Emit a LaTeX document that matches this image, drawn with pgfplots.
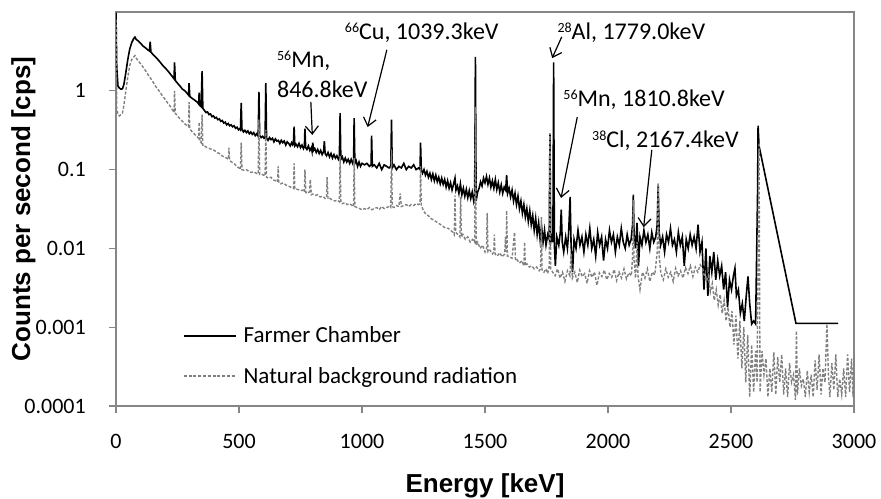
\documentclass[border=0pt]{standalone}
\usepackage{fontspec}
\setmainfont{Carlito}
\newfontfamily\arialfont{Liberation Sans}
\usepackage{pgfplots}
\usepackage{pgfplotstable}
\pgfplotsset{compat=1.18}
\usetikzlibrary{arrows.meta}
\definecolor{axisgrey}{RGB}{134,134,134}
\definecolor{bggrey}{RGB}{128,128,128}
\newcommand\sups[1]{\raisebox{7bp}{\fontsize{14bp}{14bp}\selectfont #1}}

\pgfplotstableread{
E c
0 9.8
3 2.0
8 1.15
14 1.08
20 1.05
26 1.06
32 1.2
40 1.7
48 2.5
56 3.4
64 4.1
72 4.6
77 4.8
82 4.5
90 4.3
100 4.0
110 3.7
120 3.5
130 3.3
136 3.2
139 4.2
142 3.1
150 2.9
160 2.7
170 2.5
180 2.3
190 2.1
200 1.95
210 1.8
220 1.65
230 1.5
236 1.42
238 2.3
241 1.35
250 1.25
260 1.15
270 1.05
280 1.0
290 0.92
295 0.88
297 1.25
300 0.85
310 0.8
320 0.76
330 0.72
336 0.68
338 0.95
340 0.66
346 0.63
350 1.78
353 0.6
360 0.56
366 0.53
372 0.54
378 0.5
384 0.51
390 0.47
396 0.48
402 0.45
408 0.46
414 0.43
420 0.44
426 0.41
432 0.42
438 0.39
444 0.4
450 0.37
456 0.385
462 0.36
468 0.37
474 0.35
480 0.36
486 0.335
492 0.345
498 0.32
503 0.33
506 0.32
509 0.7
512 0.33
518 0.3
524 0.315
530 0.295
536 0.31
542 0.285
548 0.3
554 0.28
560 0.295
566 0.27
572 0.285
578 0.265
581 0.97
584 0.27
590 0.255
596 0.265
602 0.25
606 0.255
609 1.25
612 0.25
618 0.235
624 0.255
630 0.24
636 0.25
642 0.225
648 0.245
654 0.23
660 0.235
666 0.215
672 0.235
678 0.22
684 0.23
690 0.205
696 0.225
702 0.215
708 0.2
714 0.22
718 0.205
721 0.21
724 0.35
727 0.2
732 0.21
738 0.195
744 0.215
750 0.19
756 0.205
762 0.185
766 0.2
768 0.33
771 0.19
776 0.18
782 0.2
788 0.175
794 0.19
797 0.17
800 0.22
803 0.175
808 0.185
814 0.165
820 0.18
826 0.16
832 0.175
838 0.155
844 0.17
847 0.23
850 0.16
856 0.15
862 0.165
868 0.145
874 0.16
880 0.14
886 0.155
892 0.14
898 0.15
904 0.135
908 0.145
911 0.52
914 0.135
920 0.145
926 0.125
932 0.14
938 0.125
944 0.135
950 0.12
956 0.135
962 0.12
966 0.13
968 0.45
971 0.12
976 0.13
982 0.11
988 0.125
994 0.11
1000 0.12
1010 0.115
1020 0.12
1030 0.11
1037 0.115
1039 0.27
1042 0.11
1050 0.115
1060 0.105
1070 0.12
1080 0.1
1090 0.115
1100 0.11
1110 0.105
1117 0.11
1120 0.43
1123 0.105
1130 0.115
1140 0.1
1150 0.11
1160 0.105
1170 0.12
1180 0.1
1190 0.11
1200 0.105
1210 0.115
1220 0.1
1230 0.105
1236 0.1
1238 0.22
1241 0.1
1246 0.09
1252 0.1
1258 0.085
1264 0.095
1270 0.08
1276 0.09
1282 0.075
1288 0.088
1294 0.072
1300 0.085
1306 0.07
1312 0.08
1318 0.066
1324 0.078
1330 0.065
1336 0.075
1342 0.06
1348 0.072
1354 0.058
1360 0.068
1366 0.055
1372 0.065
1378 0.078
1382 0.055
1388 0.062
1394 0.05
1400 0.066
1406 0.048
1412 0.058
1418 0.046
1424 0.056
1430 0.044
1436 0.054
1442 0.043
1448 0.052
1454 0.04
1458 0.048
1461 2.7
1464 0.04
1470 0.052
1476 0.058
1482 0.07
1488 0.062
1494 0.078
1500 0.068
1506 0.082
1512 0.065
1518 0.078
1524 0.06
1530 0.072
1536 0.058
1542 0.075
1548 0.056
1554 0.068
1560 0.052
1566 0.064
1572 0.05
1578 0.06
1584 0.055
1588 0.085
1592 0.05
1598 0.058
1604 0.045
1610 0.055
1616 0.04
1622 0.05
1628 0.036
1634 0.046
1640 0.032
1646 0.04
1652 0.028
1658 0.036
1664 0.025
1670 0.032
1676 0.022
1682 0.03
1688 0.02
1694 0.026
1700 0.017
1706 0.024
1712 0.015
1718 0.021
1724 0.013
1730 0.019
1736 0.012
1742 0.017
1748 0.011
1755 0.015
1761 0.013
1764 0.28
1767 0.012
1772 0.014
1776 0.012
1779 2.3
1782 0.011
1786 0.006
1792 0.014
1800 0.011
1806 0.016
1810 0.031
1814 0.012
1820 0.009
1828 0.014
1835 0.01
1840 0.016
1846 0.045
1850 0.011
1856 0.005
1862 0.013
1870 0.01
1878 0.017
1886 0.011
1894 0.014
1902 0.009
1910 0.015
1918 0.011
1926 0.018
1934 0.01
1942 0.013
1950 0.008
1958 0.016
1966 0.011
1974 0.014
1982 0.007
1990 0.013
1998 0.01
2006 0.017
2014 0.012
2022 0.015
2030 0.009
2038 0.014
2046 0.011
2054 0.018
2062 0.012
2070 0.01
2078 0.015
2086 0.011
2094 0.013
2100 0.02
2103 0.048
2106 0.015
2112 0.01
2118 0.021
2124 0.006
2130 0.014
2138 0.011
2146 0.017
2154 0.012
2162 0.015
2170 0.01
2178 0.016
2186 0.012
2194 0.014
2200 0.02
2204 0.063
2208 0.016
2214 0.011
2222 0.014
2230 0.009
2238 0.015
2246 0.012
2254 0.018
2262 0.011
2270 0.013
2278 0.009
2286 0.016
2294 0.011
2302 0.014
2310 0.006
2318 0.013
2326 0.01
2334 0.015
2342 0.011
2350 0.014
2358 0.01
2366 0.02
2374 0.009
2382 0.012
2390 0.003
2398 0.01
2406 0.0025
2414 0.008
2422 0.005
2430 0.009
2438 0.004
2446 0.007
2454 0.0045
2462 0.006
2470 0.003
2478 0.005
2486 0.0018
2494 0.004
2502 0.003
2510 0.0045
2516 0.0056
2522 0.0025
2530 0.003
2538 0.0015
2546 0.002
2554 0.0012
2562 0.0025
2569 0.0044
2576 0.002
2584 0.0011
2592 0.0012
2600 0.0011
2608 0.05
2610 0.36
2614 0.2
2764 0.00112
2935 0.00112
}\farmer

\pgfplotstableread{
E c
0 8.0
3 0.6
8 0.5
14 0.48
20 0.5
26 0.52
32 0.65
40 1.0
48 1.5
56 2.1
64 2.5
72 2.7
77 2.8
82 2.6
90 2.4
100 2.2
110 2.0
120 1.8
130 1.6
140 1.45
150 1.3
160 1.15
170 1.05
180 0.95
190 0.85
200 0.78
210 0.7
220 0.64
230 0.57
236 0.53
238 1.0
241 0.52
250 0.48
260 0.44
270 0.41
280 0.38
290 0.36
295 0.35
297 0.72
300 0.33
310 0.3
320 0.28
330 0.26
336 0.25
338 0.4
340 0.23
346 0.22
350 0.5
353 0.2
360 0.2
370 0.19
380 0.185
390 0.18
400 0.175
410 0.165
420 0.16
430 0.15
440 0.145
450 0.14
457 0.135
459 0.19
462 0.13
470 0.125
480 0.12
490 0.11
500 0.105
506 0.1
509 0.22
512 0.1
520 0.098
530 0.1
540 0.095
550 0.092
560 0.094
570 0.09
578 0.088
581 0.43
584 0.087
590 0.088
600 0.085
606 0.083
609 0.32
612 0.08
620 0.078
630 0.08
640 0.074
650 0.072
657 0.07
659 0.11
662 0.068
670 0.066
680 0.068
690 0.064
700 0.062
710 0.06
718 0.06
722 0.058
724 0.12
727 0.057
740 0.056
750 0.054
760 0.055
766 0.052
768 0.1
772 0.051
780 0.05
786 0.052
790 0.075
794 0.048
800 0.049
810 0.047
820 0.048
830 0.045
840 0.046
850 0.043
856 0.044
858 0.08
862 0.042
870 0.043
880 0.041
890 0.04
900 0.041
908 0.039
911 0.15
914 0.038
920 0.037
930 0.038
940 0.036
950 0.037
960 0.035
966 0.034
968 0.14
971 0.034
980 0.033
990 0.032
1000 0.031
1010 0.032
1020 0.031
1030 0.033
1040 0.031
1050 0.032
1060 0.033
1070 0.031
1080 0.034
1090 0.032
1100 0.033
1110 0.034
1117 0.033
1120 0.18
1123 0.034
1130 0.033
1140 0.035
1150 0.034
1155 0.05
1160 0.034
1170 0.035
1180 0.036
1190 0.034
1200 0.036
1210 0.035
1220 0.037
1230 0.036
1236 0.037
1238 0.11
1241 0.035
1250 0.03
1260 0.027
1270 0.026
1280 0.024
1290 0.023
1300 0.022
1310 0.021
1320 0.02
1330 0.019
1340 0.018
1350 0.018
1360 0.017
1370 0.016
1375 0.015
1378 0.047
1381 0.016
1390 0.015
1398 0.014
1401 0.045
1404 0.014
1410 0.015
1420 0.013
1430 0.014
1440 0.012
1450 0.013
1458 0.012
1461 0.62
1464 0.011
1470 0.012
1480 0.01
1490 0.011
1500 0.009
1506 0.01
1509 0.028
1512 0.009
1520 0.0095
1530 0.0085
1536 0.009
1538 0.015
1541 0.0085
1550 0.008
1560 0.0088
1570 0.0078
1580 0.0085
1583 0.014
1586 0.009
1588 0.03
1591 0.008
1600 0.0078
1610 0.0075
1620 0.016
1624 0.007
1630 0.0072
1640 0.0065
1650 0.007
1658 0.006
1661 0.012
1664 0.006
1670 0.0064
1680 0.0058
1690 0.006
1700 0.0055
1710 0.0058
1720 0.0052
1726 0.0055
1729 0.025
1732 0.0052
1740 0.005
1748 0.0055
1755 0.0048
1761 0.006
1764 0.29
1767 0.0055
1775 0.005
1785 0.0045
1795 0.0055
1805 0.0042
1815 0.005
1825 0.0038
1835 0.0052
1845 0.0045
1850 0.0085
1855 0.0042
1865 0.005
1875 0.0037
1885 0.0053
1895 0.0044
1905 0.0048
1915 0.0036
1925 0.0052
1935 0.0043
1945 0.005
1955 0.0034
1965 0.0049
1975 0.0044
1985 0.0053
1995 0.004
2005 0.0048
2015 0.0043
2025 0.0054
2035 0.0039
2045 0.005
2055 0.0042
2065 0.0055
2075 0.0041
2085 0.0049
2095 0.0045
2100 0.008
2103 0.041
2106 0.007
2112 0.0042
2118 0.012
2122 0.0045
2130 0.003
2140 0.005
2150 0.0042
2160 0.0055
2170 0.0038
2180 0.005
2190 0.0046
2200 0.009
2204 0.068
2208 0.008
2215 0.0048
2225 0.004
2235 0.0055
2245 0.0043
2255 0.005
2265 0.0038
2275 0.0056
2285 0.0045
2295 0.0052
2305 0.0042
2315 0.0057
2325 0.0048
2335 0.006
2345 0.0044
2355 0.0058
2365 0.005
2375 0.0062
2385 0.0055
2392 0.0045
2400 0.0038
2408 0.0045
2416 0.0028
2424 0.0036
2432 0.0022
2440 0.003
2448 0.0019
2456 0.0026
2464 0.0015
2472 0.0022
2480 0.0012
2488 0.0018
2496 0.001
2504 0.0016
2512 0.0006
2520 0.0014
2528 0.0004
2536 0.0012
2544 0.0003
2552 0.001
2560 0.0002
2568 0.0008
2576 0.00013
2584 0.0006
2592 0.00015
2600 0.0005
2606 0.0002
2610 0.01
2614 0.22
2618 0.00015
2626 0.0005
2634 0.00025
2642 0.0004
2650 0.00013
2658 0.0003
2666 0.00015
2674 0.00048
2682 0.00014
2690 0.00042
2698 0.0002
2706 0.00045
2714 0.00014
2722 0.0003
2730 0.00013
2738 0.00035
2746 0.0002
2754 0.00025
2762 0.00012
2766 0.0009
2770 0.00014
2778 0.0003
2786 0.00018
2794 0.00022
2802 0.00013
2810 0.00028
2818 0.00015
2826 0.00025
2834 0.00013
2842 0.00038
2850 0.00016
2858 0.00045
2866 0.00014
2874 0.0003
2882 0.0002
2890 0.0011
2896 0.00025
2902 0.00013
2910 0.00035
2918 0.00016
2926 0.00045
2934 0.00013
2942 0.00022
2950 0.00014
2958 0.0003
2966 0.00013
2974 0.00045
2982 0.00015
2990 0.0004
2996 0.00013
3000 0.00045
}\natural

\begin{document}
\begin{tikzpicture}
\useasboundingbox (-116bp,-93bp) rectangle (765bp,406bp);
\begin{axis}[
  scale only axis, width=738bp, height=394bp,
  xmin=0, xmax=3000, ymin=0.0001, ymax=10,
  ymode=log, log basis y=10,
  xtick={0,500,1000,1500,2000,2500,3000},
  ytick={0.0001,0.001,0.01,0.1,1},
  yticklabels={0.0001,0.001,0.01,0.1,1},
  yminorticks=false,
  tick pos=left, tick align=outside, major tick length=7bp,
  major tick style={axisgrey, line width=1.3bp},
  axis line style={axisgrey, line width=1.3bp},
  /pgf/number format/assume math mode=true,
  /pgf/number format/set thousands separator={},
  tick label style={font=\fontsize{22bp}{26bp}\selectfont},
  xticklabel style={anchor=base, inner sep=0pt, yshift=-36bp},
  yticklabel style={anchor=east, inner sep=0pt, xshift=-23bp},
  xlabel={Energy [keV]},
  ylabel={Counts per second [cps]},
  label style={font=\arialfont\bfseries\fontsize{26bp}{30bp}\selectfont},
  xlabel style={at={(axis description cs:0.5,-0.2208)}, anchor=base},
  ylabel style={at={(axis description cs:-0.1165,0.5)}, anchor=base},
  legend style={draw=none, fill=none, inner sep=0pt, outer sep=0pt,
    at={(axis description cs:0.0908,0.127)}, anchor=west,
    font=\fontsize{23bp}{27bp}\selectfont, row sep=23bp,
    cells={anchor=west}, nodes={inner sep=0pt}},
  legend image code/.code={\draw[#1] (0bp,0bp) -- (52bp,0bp); \path (59bp,0bp);},
]
\addplot[black, line width=1.6bp] table[x=E, y=c] {\farmer};
\addlegendentry{Farmer Chamber}
\addplot[bggrey, line width=1.4bp, dash pattern=on 3bp off 1.8bp] table[x=E, y=c] {\natural};
\addlegendentry{Natural background radiation}

\begin{scope}[every node/.style={anchor=base west, inner sep=0pt, font=\fontsize{24bp}{28bp}\selectfont},
  arr/.style={-{Straight Barb[length=8bp,width=13bp]}, line width=1.2bp, black}]
\node at (rel axis cs:0.218,0.858) {\sups{56}Mn,};
\node at (rel axis cs:0.218,0.784) {846.8keV};
\node at (rel axis cs:0.310,0.929) {\sups{66}Cu, 1039.3keV};
\node at (rel axis cs:0.598,0.929) {\sups{28}Al, 1779.0keV};
\node at (rel axis cs:0.606,0.761) {\sups{56}Mn, 1810.8keV};
\node at (rel axis cs:0.645,0.657) {\sups{38}Cl, 2167.4keV};
\draw[arr] (rel axis cs:0.264,0.772) -- (rel axis cs:0.266,0.688);
\draw[arr] (rel axis cs:0.367,0.904) -- (rel axis cs:0.341,0.708);
\draw[arr] (rel axis cs:0.604,0.937) -- (rel axis cs:0.591,0.883);
\draw[arr] (rel axis cs:0.625,0.733) -- (rel axis cs:0.603,0.528);
\draw[arr] (rel axis cs:0.726,0.650) -- (rel axis cs:0.715,0.454);
\end{scope}
\end{axis}
\end{tikzpicture}
\end{document}
